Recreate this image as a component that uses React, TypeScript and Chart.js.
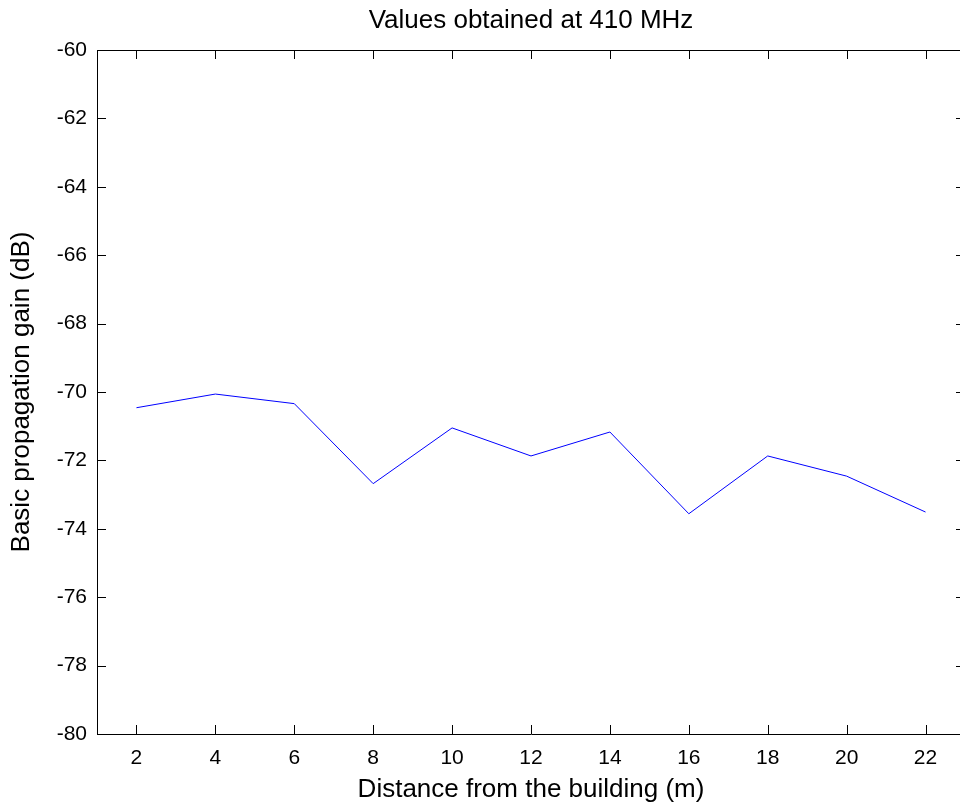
import React, { useEffect, useRef } from "react";
import { Chart, registerables } from "chart.js";

Chart.register(...registerables);

const distances = [2, 4, 6, 8, 10, 12, 14, 16, 18, 20, 22];
const gainValues = [-70.46, -70.06, -70.34, -72.68, -71.05, -71.87, -71.17, -73.56, -71.87, -72.46, -73.51];
const xTicks = [2, 4, 6, 8, 10, 12, 14, 16, 18, 20, 22];
const yTicks = [-80, -78, -76, -74, -72, -70, -68, -66, -64, -62, -60];
const titleText = "Values obtained at 410 MHz";
const xLabel = "Distance from the building (m)";
const yLabel = "Basic propagation gain (dB)";

const FONT = 'Arial, "Liberation Sans", Helvetica, sans-serif';

const boxPlugin = {
  id: "matlabBox",
  afterDatasetsDraw(chart: any) {
    const { ctx, chartArea } = chart;
    const { left, right, top, bottom } = chartArea;
    const xs = chart.scales.x;
    const ys = chart.scales.y;
    const tl = 9;
    ctx.save();
    ctx.strokeStyle = "#000";
    ctx.lineWidth = 1;
    ctx.beginPath();
    ctx.rect(Math.round(left) + 0.5, Math.round(top) + 0.5, Math.round(right - left), Math.round(bottom - top));
    for (const v of xTicks) {
      const px = Math.round(xs.getPixelForValue(v)) + 0.5;
      ctx.moveTo(px, bottom);
      ctx.lineTo(px, bottom - tl);
      ctx.moveTo(px, top);
      ctx.lineTo(px, top + tl);
    }
    for (const v of yTicks) {
      const py = Math.round(ys.getPixelForValue(v)) + 0.5;
      ctx.moveTo(left, py);
      ctx.lineTo(left + tl, py);
      ctx.moveTo(right, py);
      ctx.lineTo(right - tl, py);
    }
    ctx.stroke();
    ctx.fillStyle = "#000";
    ctx.font = `26px ${FONT}`;
    ctx.textAlign = "center";
    ctx.textBaseline = "middle";
    ctx.fillText(titleText, (left + right) / 2, 21);
    ctx.restore();
  },
};

export default function App() {
  const ref = useRef<HTMLCanvasElement | null>(null);
  useEffect(() => {
    document.body.style.margin = "0";
    document.body.style.overflow = "hidden";
    const canvas = ref.current!;
    const chart = new Chart(canvas, {
      type: "line",
      data: {
        datasets: [
          {
            data: distances.map((d, i) => ({ x: d, y: gainValues[i] })),
            borderColor: "#0000ff",
            borderWidth: 1,
            pointRadius: 0,
            fill: false,
            tension: 0,
          },
        ],
      },
      options: {
        responsive: false,
        animation: false,
        devicePixelRatio: 1,
        layout: { padding: { top: 50, right: 10, left: 0, bottom: 0 } },
        plugins: { legend: { display: false }, tooltip: { enabled: false }, title: { display: false } },
        scales: {
          x: {
            type: "linear",
            min: 1,
            max: 23,
            afterBuildTicks: (s: any) => {
              s.ticks = xTicks.map((v) => ({ value: v }));
            },
            afterFit: (s: any) => {
              s.height = 71;
            },
            grid: { display: false, drawTicks: false },
            border: { display: false },
            ticks: { color: "#000", font: { size: 21, family: FONT }, padding: 12, maxRotation: 0, autoSkip: false },
            title: { display: true, text: xLabel, color: "#000", font: { size: 26, family: FONT }, padding: { top: 0, bottom: 0 } },
          },
          y: {
            type: "linear",
            min: -80,
            max: -60,
            afterBuildTicks: (s: any) => {
              s.ticks = yTicks.map((v) => ({ value: v }));
            },
            afterFit: (s: any) => {
              s.width = 97;
            },
            grid: { display: false, drawTicks: false },
            border: { display: false },
            ticks: { color: "#000", font: { size: 21, family: FONT }, padding: 10, autoSkip: false },
            title: { display: true, text: yLabel, color: "#000", font: { size: 26, family: FONT }, padding: { top: 6, bottom: 0 } },
          },
        },
      },
      plugins: [boxPlugin],
    } as any);
    return () => chart.destroy();
  }, []);
  return (
    <div style={{ width: 975, height: 805 }}>
      <canvas ref={ref} width={975} height={805} style={{ display: "block" }} />
    </div>
  );
}
